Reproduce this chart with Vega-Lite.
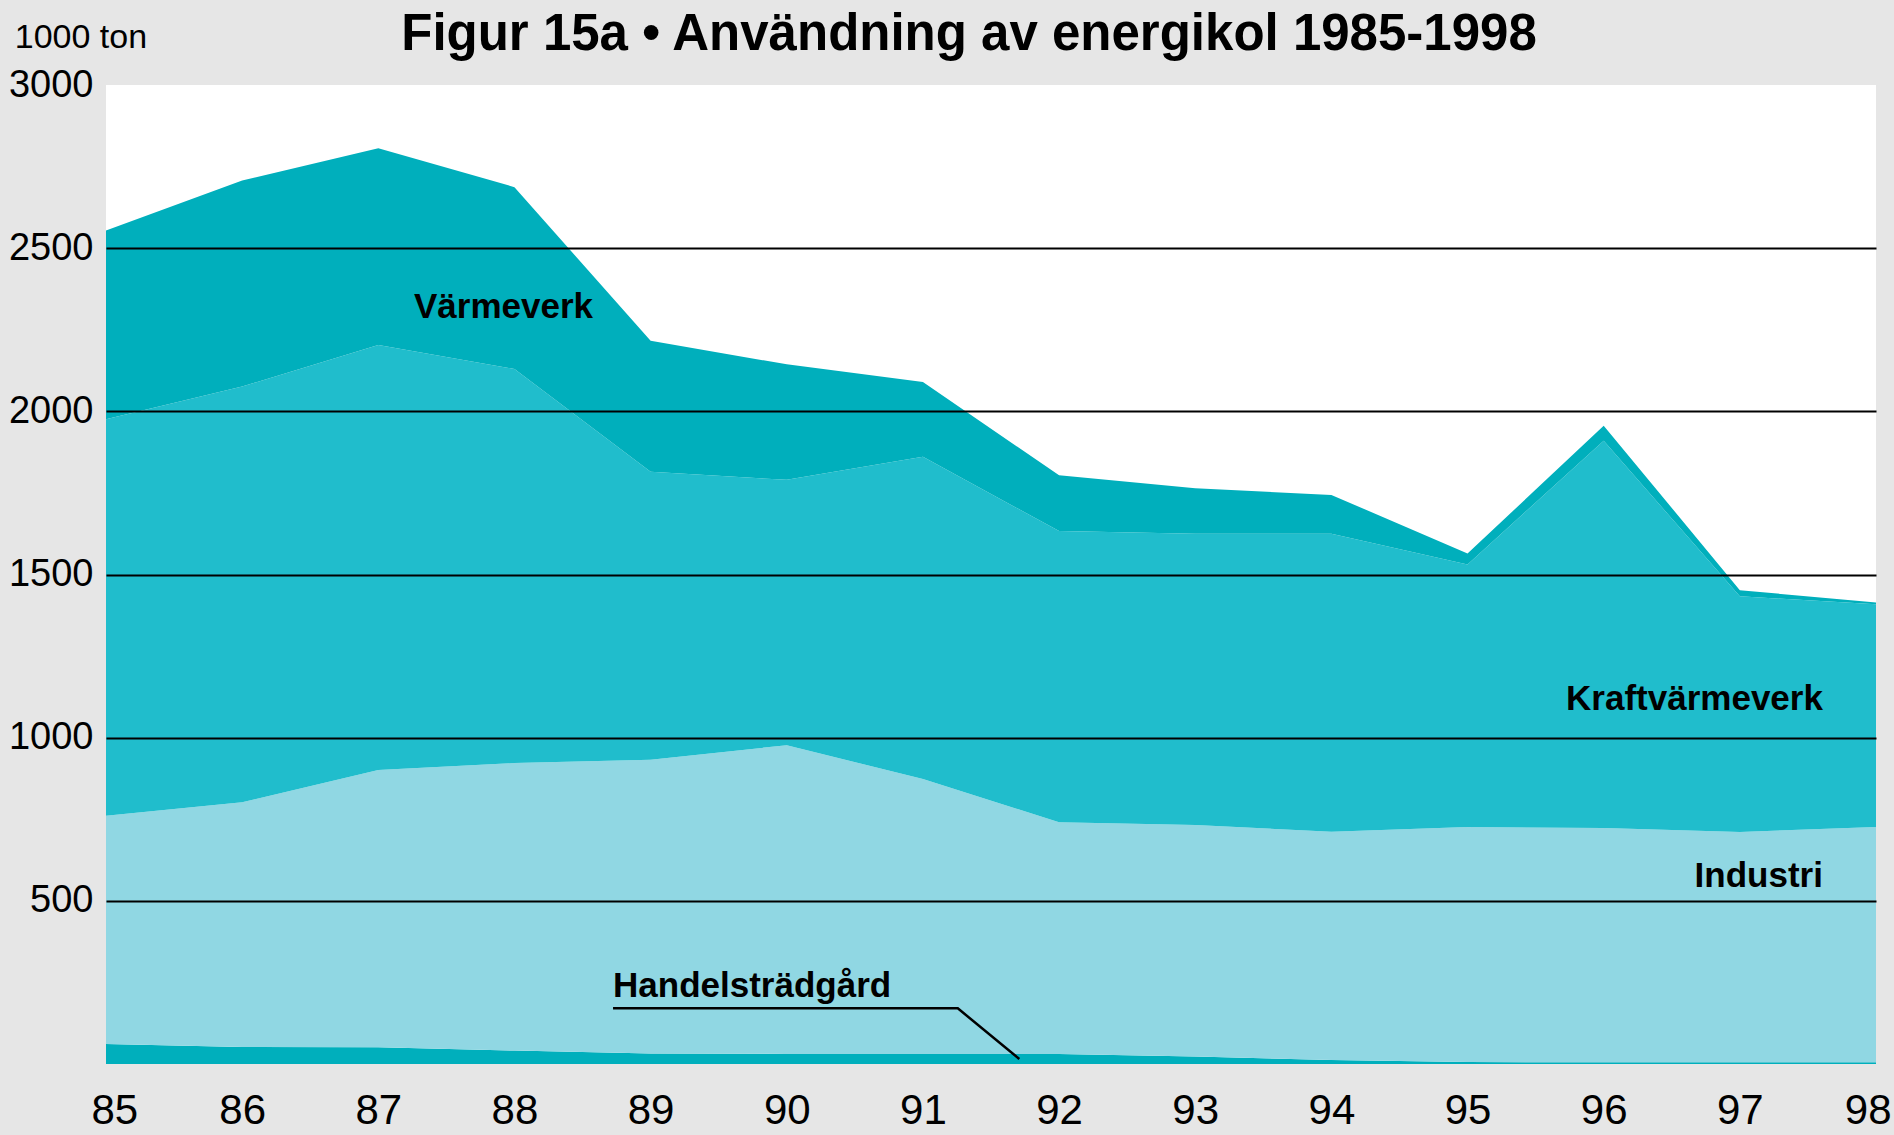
{
  "$schema": "https://vega.github.io/schema/vega-lite/v6.json",
  "width": 1770,
  "height": 979,
  "autosize": {"type": "none"},
  "padding": {"left": 106, "top": 85, "right": 18, "bottom": 71},
  "background": "#E6E6E6",
  "config": {"view": {"fill": "white", "stroke": null}, "font": "Liberation Sans"},
  "title": {
    "text": "Figur 15a • Användning av energikol 1985-1998",
    "font": "Liberation Sans",
    "fontWeight": "bold",
    "fontSize": 51,
    "color": "black",
    "anchor": "middle",
    "frame": "group",
    "baseline": "alphabetic",
    "dx": -22,
    "offset": -80
  },
  "datasets": {
    "kol": [
      {"year": 1985, "sektor": "Handelsträdgård", "k": 1, "v": 61},
      {"year": 1986, "sektor": "Handelsträdgård", "k": 1, "v": 52},
      {"year": 1987, "sektor": "Handelsträdgård", "k": 1, "v": 51},
      {"year": 1988, "sektor": "Handelsträdgård", "k": 1, "v": 41},
      {"year": 1989, "sektor": "Handelsträdgård", "k": 1, "v": 32},
      {"year": 1990, "sektor": "Handelsträdgård", "k": 1, "v": 31},
      {"year": 1991, "sektor": "Handelsträdgård", "k": 1, "v": 31},
      {"year": 1992, "sektor": "Handelsträdgård", "k": 1, "v": 31},
      {"year": 1993, "sektor": "Handelsträdgård", "k": 1, "v": 23},
      {"year": 1994, "sektor": "Handelsträdgård", "k": 1, "v": 12},
      {"year": 1995, "sektor": "Handelsträdgård", "k": 1, "v": 6},
      {"year": 1996, "sektor": "Handelsträdgård", "k": 1, "v": 5},
      {"year": 1997, "sektor": "Handelsträdgård", "k": 1, "v": 5},
      {"year": 1998, "sektor": "Handelsträdgård", "k": 1, "v": 5},
      {"year": 1985, "sektor": "Industri", "k": 2, "v": 700},
      {"year": 1986, "sektor": "Industri", "k": 2, "v": 750},
      {"year": 1987, "sektor": "Industri", "k": 2, "v": 850},
      {"year": 1988, "sektor": "Industri", "k": 2, "v": 881},
      {"year": 1989, "sektor": "Industri", "k": 2, "v": 900},
      {"year": 1990, "sektor": "Industri", "k": 2, "v": 946},
      {"year": 1991, "sektor": "Industri", "k": 2, "v": 842},
      {"year": 1992, "sektor": "Industri", "k": 2, "v": 710},
      {"year": 1993, "sektor": "Industri", "k": 2, "v": 709},
      {"year": 1994, "sektor": "Industri", "k": 2, "v": 700},
      {"year": 1995, "sektor": "Industri", "k": 2, "v": 720},
      {"year": 1996, "sektor": "Industri", "k": 2, "v": 718},
      {"year": 1997, "sektor": "Industri", "k": 2, "v": 706},
      {"year": 1998, "sektor": "Industri", "k": 2, "v": 721},
      {"year": 1985, "sektor": "Kraftvärmeverk", "k": 3, "v": 1215},
      {"year": 1986, "sektor": "Kraftvärmeverk", "k": 3, "v": 1274},
      {"year": 1987, "sektor": "Kraftvärmeverk", "k": 3, "v": 1302},
      {"year": 1988, "sektor": "Kraftvärmeverk", "k": 3, "v": 1208},
      {"year": 1989, "sektor": "Kraftvärmeverk", "k": 3, "v": 883},
      {"year": 1990, "sektor": "Kraftvärmeverk", "k": 3, "v": 813},
      {"year": 1991, "sektor": "Kraftvärmeverk", "k": 3, "v": 988},
      {"year": 1992, "sektor": "Kraftvärmeverk", "k": 3, "v": 892},
      {"year": 1993, "sektor": "Kraftvärmeverk", "k": 3, "v": 893},
      {"year": 1994, "sektor": "Kraftvärmeverk", "k": 3, "v": 913},
      {"year": 1995, "sektor": "Kraftvärmeverk", "k": 3, "v": 805},
      {"year": 1996, "sektor": "Kraftvärmeverk", "k": 3, "v": 1187},
      {"year": 1997, "sektor": "Kraftvärmeverk", "k": 3, "v": 722},
      {"year": 1998, "sektor": "Kraftvärmeverk", "k": 3, "v": 683},
      {"year": 1985, "sektor": "Värmeverk", "k": 4, "v": 578},
      {"year": 1986, "sektor": "Värmeverk", "k": 4, "v": 631},
      {"year": 1987, "sektor": "Värmeverk", "k": 4, "v": 603},
      {"year": 1988, "sektor": "Värmeverk", "k": 4, "v": 557},
      {"year": 1989, "sektor": "Värmeverk", "k": 4, "v": 401},
      {"year": 1990, "sektor": "Värmeverk", "k": 4, "v": 354},
      {"year": 1991, "sektor": "Värmeverk", "k": 4, "v": 229},
      {"year": 1992, "sektor": "Värmeverk", "k": 4, "v": 171},
      {"year": 1993, "sektor": "Värmeverk", "k": 4, "v": 139},
      {"year": 1994, "sektor": "Värmeverk", "k": 4, "v": 119},
      {"year": 1995, "sektor": "Värmeverk", "k": 4, "v": 33},
      {"year": 1996, "sektor": "Värmeverk", "k": 4, "v": 46},
      {"year": 1997, "sektor": "Värmeverk", "k": 4, "v": 19},
      {"year": 1998, "sektor": "Värmeverk", "k": 4, "v": 5}
    ],
    "labelsLeft": [
      {"label": "Värmeverk", "year": 1987.262, "value": 2286},
      {"label": "Handelsträdgård", "year": 1988.724, "value": 205}
    ],
    "labelsRight": [
      {"label": "Kraftvärmeverk", "year": 1997.61, "value": 1085},
      {"label": "Industri", "year": 1997.61, "value": 543}
    ],
    "leader": [
      {"year": 1988.724, "value": 170.7},
      {"year": 1991.256, "value": 170.7},
      {"year": 1991.708, "value": 15.3}
    ],
    "unit": [
      {"label": "1000 ton", "year": 1984.33, "value": 3114}
    ]
  },
  "layer": [
    {
      "data": {"name": "kol"},
      "mark": {"type": "area", "interpolate": "linear"},
      "encoding": {
        "x": {
          "field": "year",
          "type": "quantitative",
          "scale": {"domain": [1985, 1998], "nice": false, "zero": false},
          "axis": {
            "title": null,
            "values": [1985, 1986, 1987, 1988, 1989, 1990, 1991, 1992, 1993, 1994, 1995, 1996, 1997, 1998],
            "labelExpr": "substring(toString(datum.value), 2)",
            "grid": false,
            "domain": false,
            "ticks": false,
            "tickSize": 0,
            "labelPadding": 26,
            "labelFont": "Liberation Sans",
            "labelFontSize": 42,
            "labelColor": "black",
            "labelFlush": true,
            "labelFlushOffset": 15,
            "labelOverlap": false
          }
        },
        "y": {
          "field": "v",
          "type": "quantitative",
          "stack": "zero",
          "scale": {"domain": [0, 3000], "nice": false},
          "axis": {
            "title": null,
            "values": [500, 1000, 1500, 2000, 2500, 3000],
            "format": "d",
            "grid": true,
            "gridColor": "black",
            "gridWidth": 2,
            "gridOpacity": {"condition": {"test": "datum.value >= 3000", "value": 0}, "value": 1},
            "domain": false,
            "ticks": false,
            "tickSize": 0,
            "labelAlign": "right",
            "labelPadding": 13,
            "labelFont": "Liberation Sans",
            "labelFontSize": 38,
            "labelColor": "black",
            "zindex": 1
          }
        },
        "color": {
          "field": "sektor",
          "type": "nominal",
          "scale": {
            "domain": ["Handelsträdgård", "Industri", "Kraftvärmeverk", "Värmeverk"],
            "range": ["#00AFBC", "#90D7E3", "#20BDCC", "#00AFBC"]
          },
          "legend": null
        },
        "order": {"field": "k", "type": "quantitative"}
      }
    },
    {
      "data": {"name": "leader"},
      "mark": {"type": "line", "color": "black", "strokeWidth": 2.5},
      "encoding": {
        "x": {"field": "year", "type": "quantitative"},
        "y": {"field": "value", "type": "quantitative"}
      }
    },
    {
      "data": {"name": "labelsLeft"},
      "mark": {"type": "text", "align": "left", "baseline": "alphabetic", "font": "Liberation Sans", "fontWeight": "bold", "fontSize": 35, "color": "black"},
      "encoding": {
        "x": {"field": "year", "type": "quantitative"},
        "y": {"field": "value", "type": "quantitative"},
        "text": {"field": "label"}
      }
    },
    {
      "data": {"name": "labelsRight"},
      "mark": {"type": "text", "align": "right", "baseline": "alphabetic", "font": "Liberation Sans", "fontWeight": "bold", "fontSize": 35, "color": "black"},
      "encoding": {
        "x": {"field": "year", "type": "quantitative"},
        "y": {"field": "value", "type": "quantitative"},
        "text": {"field": "label"}
      }
    },
    {
      "data": {"name": "unit"},
      "mark": {"type": "text", "align": "left", "baseline": "alphabetic", "font": "Liberation Sans", "fontSize": 34, "color": "black"},
      "encoding": {
        "x": {"field": "year", "type": "quantitative"},
        "y": {"field": "value", "type": "quantitative"},
        "text": {"field": "label"}
      }
    }
  ]
}
